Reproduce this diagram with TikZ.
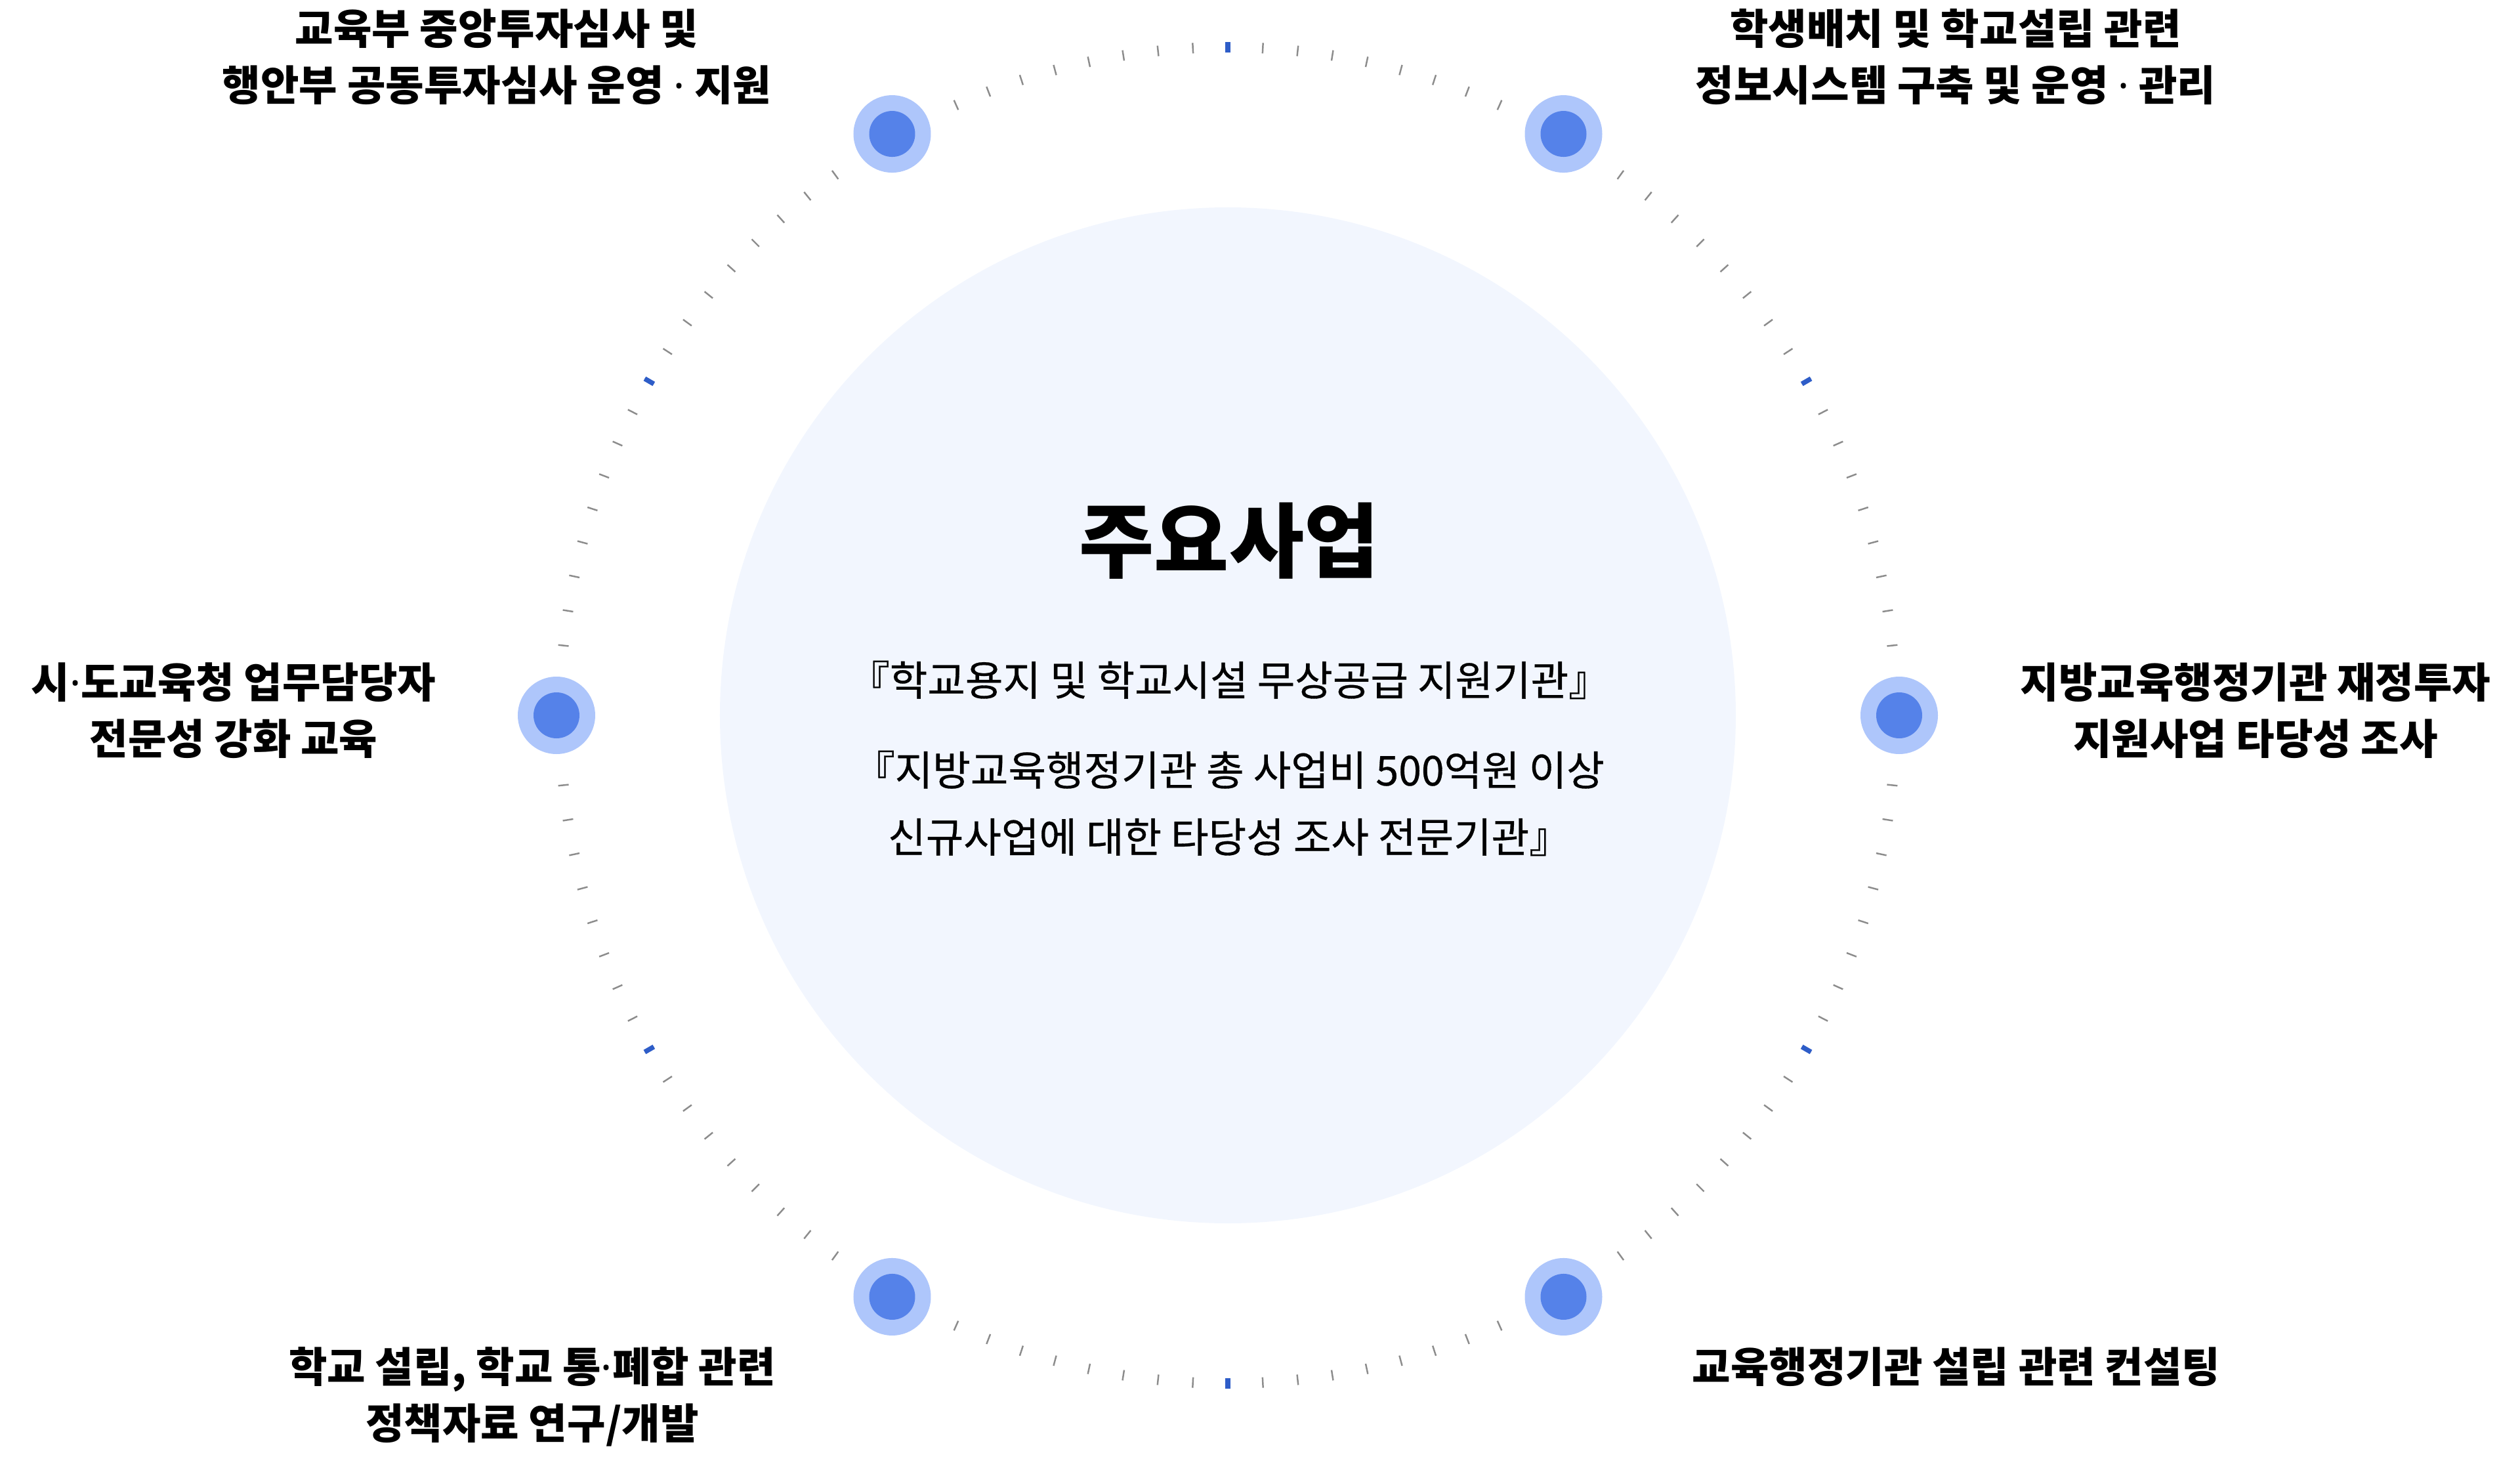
\documentclass[tikz,border=0pt]{standalone}
\usepackage{fontspec}
\setmainfont{Noto Sans CJK KR}
\newfontfamily\hubfont[FakeBold=0.5]{Noto Sans CJK KR}
\newfontfamily\dotfont{Noto Sans}
\usetikzlibrary{positioning}
\usepackage{xcolor}

\definecolor{hubfill}{HTML}{F2F6FE}
\definecolor{haloblue}{HTML}{AEC6FB}
\definecolor{dotblue}{HTML}{5582E9}
\definecolor{markblue}{HTML}{2E5DC8}
\definecolor{tickgray}{HTML}{8C8C8C}

% narrow middle dot
\newcommand{\mdot}{{\dotfont\bfseries ·}}

\tikzset{
  halo/.style={circle, fill=haloblue, minimum size=1.18cm, inner sep=0pt},
  core/.style={circle, fill=dotblue, minimum size=0.70cm, inner sep=0pt},
  minortick/.style={tickgray, line width=0.7pt},
  majortick/.style={markblue, line width=2.1pt},
  itemlabel/.style={font=\fontsize{18.1}{24.5}\selectfont\bfseries, align=center, inner sep=0pt},
  hubtext/.style={font=\hubfont\fontsize{17.8}{29}\selectfont, align=center, inner sep=0pt}
}

\begin{document}
\begin{tikzpicture}
\useasboundingbox (-18.71,-11.55) rectangle (19.69,10.90);

% Central disc
\fill[hubfill] (0,0) circle (7.74);

% Tick ring
\foreach \a in {0,3,...,357}
  \draw[minortick] (\a:10.10) -- (\a:10.26);
\foreach \a in {30,90,...,330}
  \draw[majortick] (\a:10.10) -- (\a:10.26);

% Dots on the ring
\foreach \a/\n in {0/r,60/tr,120/tl,180/l,240/bl,300/br} {
  \node[halo] (halo-\n) at (\a:10.23) {};
  \node[core] (dot-\n) at (\a:10.23) {};
}

% Title and description
\node[font=\fontsize{35.3}{40}\selectfont\bfseries, inner sep=0pt] (title) at (0.02,2.66) {주요사업};
\node[hubtext] (desc1) at (0.02,0.54) {『학교용지 및 학교시설 무상공급 지원기관』};
\node[hubtext] (desc2) at (0.02,-1.34) {『지방교육행정기관 총 사업비 500억원 이상\\신규사업에 대한 타당성 조사 전문기관』};

% Item labels
\node[itemlabel] (lbl-tl) at (-11.14,10.03) {교육부 중앙투자심사 및\\행안부 공동투자심사 운영 \mdot{} 지원};
\node[itemlabel] (lbl-tr) at (11.09,10.03) {학생배치 및 학교설립 관련\\정보시스템 구축 및 운영 \mdot{} 관리};
\node[itemlabel] (lbl-l) at (-15.15,0.07) {시\mdot{}도교육청 업무담당자\\전문성 강화 교육};
\node[itemlabel] (lbl-r) at (15.66,0.07) {지방교육행정기관 재정투자\\지원사업 타당성 조사};
\node[itemlabel] (lbl-bl) at (-10.60,-10.38) {학교 설립, 학교 통\mdot{}폐합 관련\\정책자료 연구/개발};
\node[itemlabel] (lbl-br) at (11.10,-9.93) {교육행정기관 설립 관련 컨설팅};
\end{tikzpicture}
\end{document}
